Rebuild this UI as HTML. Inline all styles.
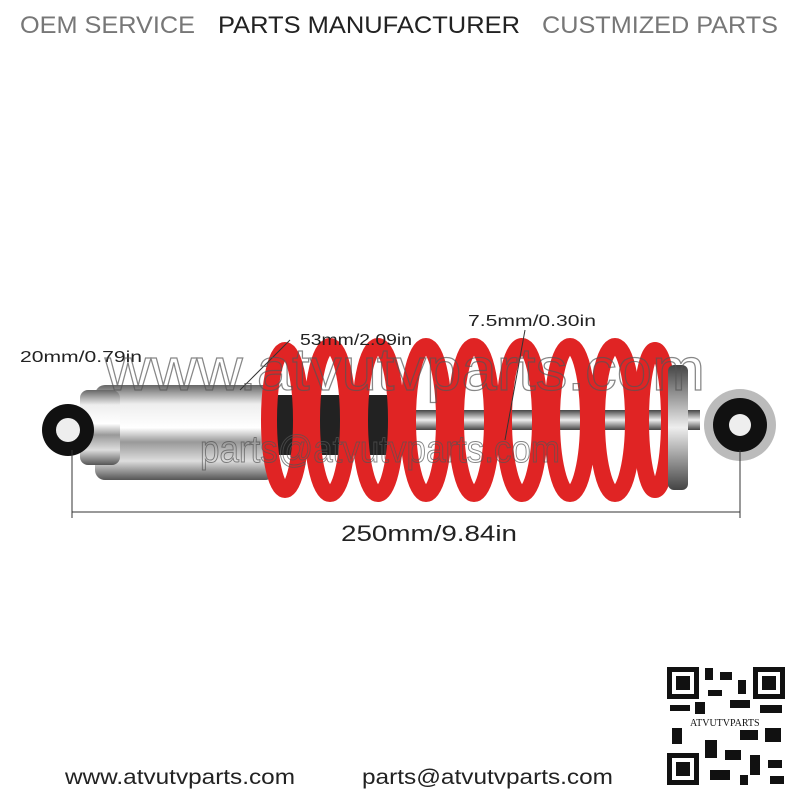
<!DOCTYPE html>
<html><head><meta charset="utf-8"><style>
html,body{margin:0;padding:0;background:#fff;}
body{width:800px;height:800px;overflow:hidden;position:relative;font-family:"Liberation Sans",sans-serif;}
</style></head><body>
<svg width="800" height="800" viewBox="0 0 800 800" xmlns="http://www.w3.org/2000/svg" style="position:absolute;left:0;top:0">
<defs>
<linearGradient id="chrome" x1="0" y1="0" x2="0" y2="1">
<stop offset="0" stop-color="#666"/><stop offset="0.2" stop-color="#eee"/><stop offset="0.45" stop-color="#fff"/><stop offset="0.6" stop-color="#999"/><stop offset="0.8" stop-color="#ddd"/><stop offset="1" stop-color="#555"/>
</linearGradient>
<linearGradient id="rod" x1="0" y1="0" x2="0" y2="1">
<stop offset="0" stop-color="#444"/><stop offset="0.5" stop-color="#eee"/><stop offset="1" stop-color="#444"/>
</linearGradient>
</defs>
<text x="20" y="33" font-size="24" fill="#777" textLength="175" lengthAdjust="spacingAndGlyphs">OEM SERVICE</text>
<text x="218" y="33" font-size="24" fill="#222" textLength="302" lengthAdjust="spacingAndGlyphs">PARTS MANUFACTURER</text>
<text x="542" y="33" font-size="24" fill="#777" textLength="236" lengthAdjust="spacingAndGlyphs">CUSTMIZED PARTS</text>

<rect x="260" y="410" width="440" height="20" fill="url(#rod)"/>
<rect x="270" y="395" width="120" height="60" fill="#222"/>
<rect x="95" y="385" width="180" height="95" rx="10" fill="url(#chrome)"/>
<rect x="80" y="390" width="40" height="75" rx="8" fill="url(#chrome)"/>
<circle cx="68" cy="430" r="26" fill="#111"/>
<circle cx="68" cy="430" r="12" fill="#eee"/>
<g fill="none" stroke="#e02424" stroke-width="16">
<ellipse cx="285" cy="420" rx="16" ry="70"/>
<ellipse cx="330" cy="420" rx="18" ry="74"/>
<ellipse cx="378" cy="420" rx="18" ry="74"/>
<ellipse cx="426" cy="420" rx="18" ry="74"/>
<ellipse cx="474" cy="420" rx="18" ry="74"/>
<ellipse cx="522" cy="420" rx="18" ry="74"/>
<ellipse cx="570" cy="420" rx="18" ry="74"/>
<ellipse cx="615" cy="420" rx="18" ry="74"/>
<ellipse cx="655" cy="420" rx="14" ry="70"/>
</g>
<rect x="668" y="365" width="20" height="125" rx="6" fill="url(#rod)"/>
<circle cx="740" cy="425" r="36" fill="#bbb"/>
<circle cx="740" cy="425" r="27" fill="#111"/>
<circle cx="740" cy="425" r="11" fill="#eee"/>

<g stroke="#333" stroke-width="1">
<line x1="72" y1="512" x2="740" y2="512"/>
<line x1="72" y1="450" x2="72" y2="518"/>
<line x1="740" y1="450" x2="740" y2="518"/>
<line x1="240" y1="390" x2="290" y2="340"/>
<line x1="505" y1="440" x2="525" y2="330"/>
</g>
<text x="341" y="541" font-size="22" fill="#222" textLength="176" lengthAdjust="spacingAndGlyphs">250mm/9.84in</text>
<text x="20" y="362" font-size="16" fill="#222" textLength="122" lengthAdjust="spacingAndGlyphs">20mm/0.79in</text>
<text x="300" y="345" font-size="16" fill="#222" textLength="112" lengthAdjust="spacingAndGlyphs">53mm/2.09in</text>
<text x="468" y="326" font-size="16" fill="#222" textLength="128" lengthAdjust="spacingAndGlyphs">7.5mm/0.30in</text>

<text x="105" y="390" font-size="60" fill="none" stroke="#555" stroke-width="1.2" opacity="0.7" textLength="600" lengthAdjust="spacingAndGlyphs">www.atvutvparts.com</text>
<text x="200" y="462" font-size="38" fill="none" stroke="#555" stroke-width="1" opacity="0.7" textLength="360" lengthAdjust="spacingAndGlyphs">parts@atvutvparts.com</text>

<rect x="667" y="667" width="118" height="118" fill="#fff"/>
<g fill="#111">
<rect x="667" y="667" width="32" height="32"/><rect x="672" y="672" width="22" height="22" fill="#fff"/><rect x="676" y="676" width="14" height="14"/>
<rect x="753" y="667" width="32" height="32"/><rect x="758" y="672" width="22" height="22" fill="#fff"/><rect x="762" y="676" width="14" height="14"/>
<rect x="667" y="753" width="32" height="32"/><rect x="672" y="758" width="22" height="22" fill="#fff"/><rect x="676" y="762" width="14" height="14"/>
<rect x="705" y="668" width="8" height="12"/><rect x="720" y="672" width="12" height="8"/><rect x="738" y="680" width="8" height="14"/>
<rect x="708" y="690" width="14" height="6"/><rect x="670" y="705" width="20" height="6"/><rect x="695" y="702" width="10" height="12"/>
<rect x="730" y="700" width="20" height="8"/><rect x="760" y="705" width="22" height="8"/><rect x="672" y="728" width="10" height="16"/>
<rect x="740" y="730" width="18" height="10"/><rect x="765" y="728" width="16" height="14"/><rect x="705" y="740" width="12" height="18"/>
<rect x="725" y="750" width="16" height="10"/><rect x="750" y="755" width="10" height="20"/><rect x="768" y="760" width="14" height="8"/>
<rect x="710" y="770" width="20" height="10"/><rect x="740" y="775" width="8" height="10"/><rect x="770" y="776" width="14" height="8"/>
</g>
<text x="690" y="726" font-size="10" fill="#111" font-family="Liberation Serif">ATVUTVPARTS</text>

<text x="65" y="784" font-size="21" fill="#222" textLength="230" lengthAdjust="spacingAndGlyphs">www.atvutvparts.com</text>
<text x="362" y="784" font-size="21" fill="#222" textLength="251" lengthAdjust="spacingAndGlyphs">parts@atvutvparts.com</text>
</svg>
</body></html>
